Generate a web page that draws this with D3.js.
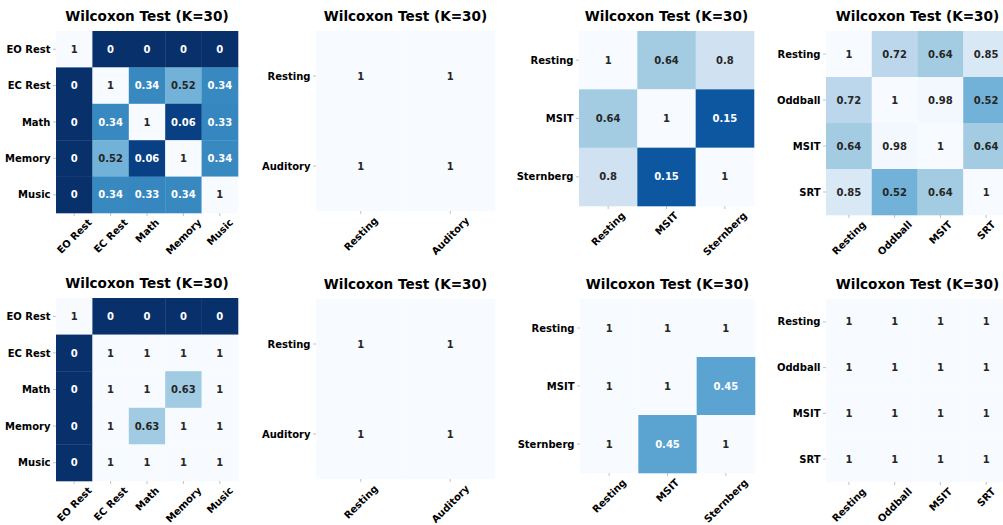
<!DOCTYPE html>
<html>
<head>
<meta charset="utf-8">
<script src="https://cdn.jsdelivr.net/npm/d3@7"></script>
<style>
  html, body { margin: 0; padding: 0; background: #ffffff; }
  svg { display: block; }
  text { font-family: "DejaVu Sans", sans-serif; font-weight: bold; }
</style>
</head>
<body>
<svg id="chart" width="1003" height="525"></svg>
<script>
// Condition labels for each experiment
const labelsFive  = ["EO Rest", "EC Rest", "Math", "Memory", "Music"];
const labelsTwo   = ["Resting", "Auditory"];
const labelsThree = ["Resting", "MSIT", "Sternberg"];
const labelsFour  = ["Resting", "Oddball", "MSIT", "SRT"];

// Pairwise Wilcoxon p-values (K=30), top row
const pTopFive = [
  [1, 0, 0, 0, 0],
  [0, 1, 0.34, 0.52, 0.34],
  [0, 0.34, 1, 0.06, 0.33],
  [0, 0.52, 0.06, 1, 0.34],
  [0, 0.34, 0.33, 0.34, 1]
];
const pTopTwo = [
  [1, 1],
  [1, 1]
];
const pTopThree = [
  [1, 0.64, 0.8],
  [0.64, 1, 0.15],
  [0.8, 0.15, 1]
];
const pTopFour = [
  [1, 0.72, 0.64, 0.85],
  [0.72, 1, 0.98, 0.52],
  [0.64, 0.98, 1, 0.64],
  [0.85, 0.52, 0.64, 1]
];

// Pairwise Wilcoxon p-values (K=30), bottom row
const pBottomFive = [
  [1, 0, 0, 0, 0],
  [0, 1, 1, 1, 1],
  [0, 1, 1, 0.63, 1],
  [0, 1, 0.63, 1, 1],
  [0, 1, 1, 1, 1]
];
const pBottomTwo = [
  [1, 1],
  [1, 1]
];
const pBottomThree = [
  [1, 1, 1],
  [1, 1, 0.45],
  [1, 0.45, 1]
];
const pBottomFour = [
  [1, 1, 1, 1],
  [1, 1, 1, 1],
  [1, 1, 1, 1],
  [1, 1, 1, 1]
];

const panelTitle = "Wilcoxon Test (K=30)";

// Panel boxes (left, top, width, height) for the 2x4 grid
const panels = [
  { labels: labelsFive,  values: pTopFive,     box: [56, 31, 182, 182] },
  { labels: labelsTwo,   values: pTopTwo,      box: [316, 31, 179, 180] },
  { labels: labelsThree, values: pTopThree,    box: [579, 31, 175, 175] },
  { labels: labelsFour,  values: pTopFour,     box: [826, 31, 183, 184] },
  { labels: labelsFive,  values: pBottomFive,  box: [56, 298, 182, 183] },
  { labels: labelsTwo,   values: pBottomTwo,   box: [316, 299, 179, 180] },
  { labels: labelsThree, values: pBottomThree, box: [580, 299, 175, 174] },
  { labels: labelsFour,  values: pBottomFour,  box: [826, 299, 183, 183] }
];

// Reversed "Blues" colour map on [0, 1]
const bluesStops = ["#f7fbff", "#deebf7", "#c6dbef", "#9ecae1", "#6baed6",
                    "#4292c6", "#2171b5", "#08519c", "#08306b"];
const blues = d3.scaleLinear()
  .domain(d3.range(bluesStops.length).map(i => i / (bluesStops.length - 1)))
  .range(bluesStops)
  .interpolate(d3.interpolateRgb)
  .clamp(true);
const color = v => blues(1 - v);

function luminance(c) {
  const rgb = d3.rgb(c);
  const lin = x => {
    x /= 255;
    return x <= 0.03928 ? x / 12.92 : Math.pow((x + 0.055) / 1.055, 2.4);
  };
  return 0.2126 * lin(rgb.r) + 0.7152 * lin(rgb.g) + 0.0722 * lin(rgb.b);
}

const fmt = v => (v === 0 || v === 1) ? String(v) : String(+v.toFixed(2));

const svg = d3.select("#chart");
const FS = 10;           // tick label / annotation size
const TITLE_FS = 13.6;

panels.forEach(p => {
  const [x0, y0, w, h] = p.box;
  const g = svg.append("g").attr("transform", `translate(${x0},${y0})`);

  const xs = d3.scaleBand().domain(p.labels).range([0, w]);
  const ys = d3.scaleBand().domain(p.labels).range([0, h]);

  const cells = [];
  p.values.forEach((row, i) => row.forEach((v, j) => {
    cells.push({ row: p.labels[i], col: p.labels[j], v });
  }));

  // heat cells
  g.selectAll("rect.cell").data(cells).join("rect")
    .attr("class", "cell")
    .attr("x", d => xs(d.col))
    .attr("y", d => ys(d.row))
    .attr("width", xs.bandwidth() + 0.3)
    .attr("height", ys.bandwidth() + 0.3)
    .attr("fill", d => color(d.v));

  // annotations
  g.selectAll("text.annot").data(cells).join("text")
    .attr("class", "annot")
    .attr("x", d => xs(d.col) + xs.bandwidth() / 2)
    .attr("y", d => ys(d.row) + ys.bandwidth() / 2)
    .attr("dy", "0.36em")
    .attr("text-anchor", "middle")
    .attr("font-size", FS)
    .attr("fill", d => luminance(color(d.v)) > 0.38 ? "#262626" : "#ffffff")
    .text(d => fmt(d.v));

  // y ticks and labels
  const yAxis = g.append("g");
  p.labels.forEach(l => {
    const cy = ys(l) + ys.bandwidth() / 2;
    yAxis.append("line")
      .attr("x1", -3).attr("x2", 0).attr("y1", cy).attr("y2", cy)
      .attr("stroke", "#999").attr("stroke-width", 0.6);
    yAxis.append("text")
      .attr("x", -5.5).attr("y", cy).attr("dy", "0.36em")
      .attr("text-anchor", "end")
      .attr("font-size", FS)
      .attr("fill", "#000")
      .text(l);
  });

  // x ticks and rotated labels
  const xAxis = g.append("g").attr("transform", `translate(0,${h})`);
  p.labels.forEach(l => {
    const cx = xs(l) + xs.bandwidth() / 2;
    xAxis.append("line")
      .attr("x1", cx).attr("x2", cx).attr("y1", 0).attr("y2", 3)
      .attr("stroke", "#999").attr("stroke-width", 0.6);
    const t = xAxis.append("text")
      .attr("text-anchor", "middle")
      .attr("dy", "0.36em")
      .attr("font-size", FS)
      .attr("fill", "#000")
      .text(l);
    const tw = t.node().getComputedTextLength();
    const half = (tw + 1.16 * FS) / (2 * Math.SQRT2);
    t.attr("transform", `translate(${cx},${3.5 + half}) rotate(-45)`);
  });

  // title
  g.append("text")
    .attr("x", w / 2)
    .attr("y", -10.5)
    .attr("text-anchor", "middle")
    .attr("font-size", TITLE_FS)
    .attr("fill", "#000")
    .text(panelTitle);
});
</script>
</body>
</html>
